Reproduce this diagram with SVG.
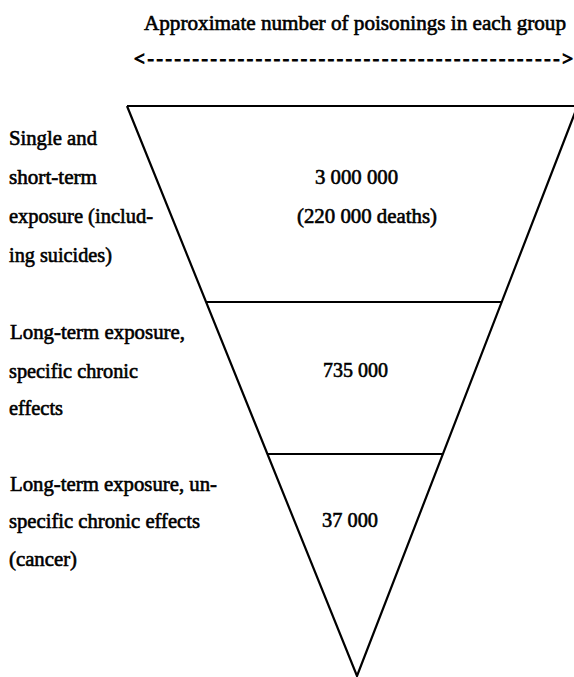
<svg xmlns="http://www.w3.org/2000/svg" width="574" height="677" viewBox="0 0 574 677">
<style>
text{font-family:"Liberation Serif","Times New Roman",serif;font-size:21px;fill:#000;stroke:#000;stroke-width:0.6}
.arrow{font-size:19px;font-weight:bold;stroke-width:1}
.edge{stroke:#000;stroke-width:2.2;fill:none;stroke-linejoin:miter}
</style>
<rect width="574" height="677" fill="#fff"/>
<g id="header">
<text x="144" y="30" textLength="422" lengthAdjust="spacingAndGlyphs">Approximate number of poisonings in each group</text>
<text class="arrow" x="134" y="65" textLength="439" lengthAdjust="spacing">&lt;----------------------------------------------&gt;</text>
</g>
<g id="connectors">
<path class="edge" d="M127,106 L578,106 M127,106 L357,676 L576,110"/>
<line class="edge" x1="206" y1="302" x2="501" y2="302"/>
<line class="edge" x1="267" y1="454" x2="442" y2="454"/>
</g>
<g id="group1">
<text x="9" y="145" textLength="88" lengthAdjust="spacingAndGlyphs">Single and</text>
<text x="9" y="184" textLength="88" lengthAdjust="spacingAndGlyphs">short-term</text>
<text x="9" y="223" textLength="144" lengthAdjust="spacingAndGlyphs">exposure (includ-</text>
<text x="9" y="262" textLength="103" lengthAdjust="spacingAndGlyphs">ing suicides)</text>
<text x="315" y="184" textLength="83" lengthAdjust="spacingAndGlyphs">3 000 000</text>
<text x="297" y="223" textLength="140" lengthAdjust="spacingAndGlyphs">(220 000 deaths)</text>
</g>
<g id="group2">
<text x="10" y="339" textLength="175" lengthAdjust="spacingAndGlyphs">Long-term exposure,</text>
<text x="9" y="378" textLength="129" lengthAdjust="spacingAndGlyphs">specific chronic</text>
<text x="9" y="415" textLength="54" lengthAdjust="spacingAndGlyphs">effects</text>
<text x="323" y="377" textLength="65" lengthAdjust="spacingAndGlyphs">735 000</text>
</g>
<g id="group3">
<text x="10" y="491" textLength="207" lengthAdjust="spacingAndGlyphs">Long-term exposure, un-</text>
<text x="9" y="528" textLength="191" lengthAdjust="spacingAndGlyphs">specific chronic effects</text>
<text x="9" y="566" textLength="68" lengthAdjust="spacingAndGlyphs">(cancer)</text>
<text x="322" y="527" textLength="56" lengthAdjust="spacingAndGlyphs">37 000</text>
</g>
</svg>
